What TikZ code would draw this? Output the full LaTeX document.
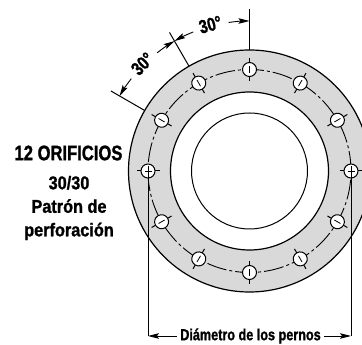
\documentclass[tikz,border=0pt]{standalone}
\usepackage{fontspec}
\usetikzlibrary{arrows.meta}
\newfontfamily\lab[FakeStretch=0.88,FakeBold=1.2,UprightFont={* Bold},BoldFont={* Bold}]{Liberation Sans}
\newfontfamily\labn[FakeStretch=0.79,FakeBold=1.2,UprightFont={* Bold},BoldFont={* Bold}]{Liberation Sans}
\definecolor{flange}{HTML}{D9D9D9}
\tikzset{
  x=1pt,y=1pt,
  heavy/.style={line width=1.2pt,black},
  thin line/.style={line width=1pt,black},
  dimline/.style={line width=0.9pt,black,-{Stealth[length=11pt,width=5.5pt,inset=2pt]}},
  boltline/.style={line width=0.9pt,black,dash pattern=on 20pt off 3pt on 3pt off 3pt},
  txt/.style={font=\lab\fontsize{18.5}{23.5}\selectfont,text=black,inner sep=0pt,align=center},
  titletxt/.style={font=\labn\fontsize{21}{23}\selectfont,text=black,inner sep=0pt},
  angtxt/.style={font=\labn\fontsize{19}{18}\selectfont,text=black,inner sep=0pt},
  dimtxt/.style={font=\labn\fontsize{16}{18}\selectfont,text=black,inner sep=0pt},
}
\begin{document}
\begin{tikzpicture}
\useasboundingbox (0,0) rectangle (362,345);
\clip (0,0) rectangle (362,345);
\coordinate (c) at (249.5,174);
% flange
\draw[heavy,fill=flange] (c) circle (121);
\draw[heavy,fill=white] (c) circle (79);
\draw[thin line] (c) circle (58);
\draw[boltline] (c) circle (101.5);
% bolt holes
\foreach \a in {0,30,...,330}{
  \begin{scope}[shift={(c)},rotate=\a]
    \draw[thin line,fill=white] (101.5,0) circle (7);
    \draw[thin line] (90,0) -- (94.5,0) (108.5,0) -- (113,0);
    \draw[line width=0.8pt] (98,0) -- (105,0);
  \end{scope}
}
% bolt-circle extension lines
\coordinate (hl) at (148,179);
\coordinate (hr) at (351,179);
\coordinate (bl) at (148,9);
\coordinate (br) at (351,9);
\draw[thin line] (hl) -- (bl);
\draw[thin line] (hr) -- (br);
% angular extension lines
\begin{scope}[shift={(c)}]
  \coordinate (a0i) at (90:121);  \coordinate (a0o) at (90:162);
  \coordinate (a1i) at (120:121); \coordinate (a1o) at (120:160);
  \coordinate (a2i) at (150:121); \coordinate (a2o) at (150:160);
  \coordinate (a0s) at (98:150);
  \coordinate (a1s) at (112:150);
  \coordinate (a1t) at (128:150);
  \coordinate (a2s) at (142:150);
  \node[angtxt,rotate=15] (t1) at (105:151.5) {30°};
  \node[angtxt,rotate=45] (t2) at (135:151.5) {30°};
\end{scope}
\draw[thin line] (a0i) -- (a0o);
\draw[thin line] (a1i) -- (a1o);
\draw[thin line] (a2i) -- (a2o);
\draw[dimline] (a0s) arc (98:90:150);
\draw[dimline] (a1s) arc (112:120:150);
\draw[dimline] (a1t) arc (128:120:150);
\draw[dimline] (a2s) arc (142:150:150);
% texts
\node[titletxt] (title) at (68.5,192) {12 ORIFICIOS};
\node[txt] (sub) at (69,137) {30/30\\Patrón de\\perforación};
\node[dimtxt] (dlabel) at (250.5,9) {Diámetro de los pernos};
\draw[dimline] (dlabel.west) ++(-3,0) -- (bl);
\draw[dimline] (dlabel.east) ++(3,0) -- (br);
\end{tikzpicture}
\end{document}
